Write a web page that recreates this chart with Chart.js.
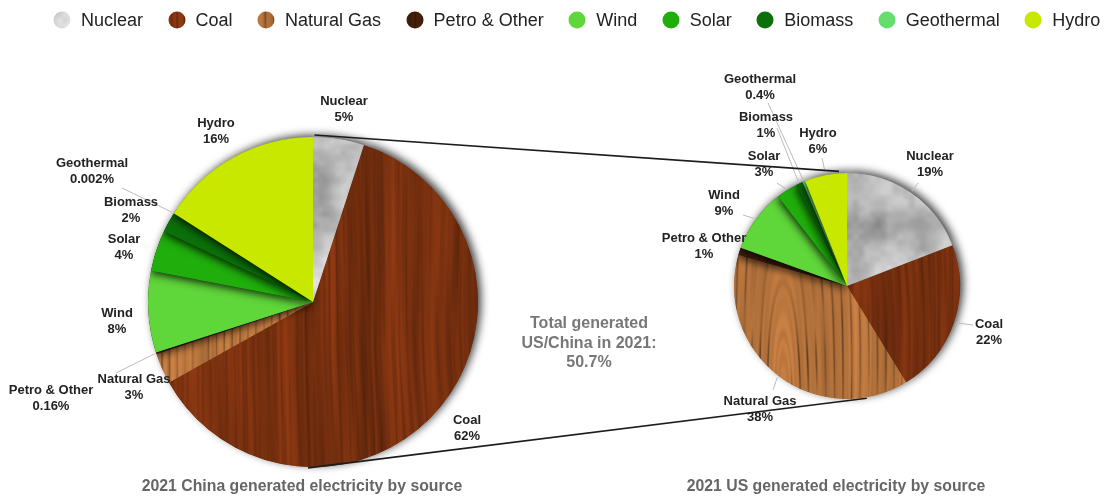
<!DOCTYPE html>
<html>
<head>
<meta charset="utf-8">
<title>US / China generated electricity 2021</title>
<script src="https://cdn.jsdelivr.net/npm/chart.js@4/dist/chart.umd.min.js"></script>
<style>
    html, body { margin: 0; background: #fff; }
    #page { position: relative; width: 1106px; height: 496px; overflow: hidden; font-family: "Liberation Sans", Arial, sans-serif; filter: blur(0.45px); }
    #page canvas.pie { position: absolute; left: 0; top: 0; }
    #legend { position: absolute; left: 53px; top: 8px; display: flex; font-size: 18px; color: #222; line-height: 24px; white-space: nowrap; }
    #legend div { display: flex; align-items: center; margin-right: 24.5px; }
    #legend canvas { margin-right: 10px; }
    .title { position: absolute; top: 477px; font-weight: bold; font-size: 15.8px; color: #666; white-space: nowrap; transform: translateX(-50%); }
    #note { position: absolute; left: 589px; top: 313px; width: 180px; margin-left: -90px; text-align: center; font-size: 16px; line-height: 19.5px; color: #777; font-weight: bold; }
</style>
</head>
<body>
<div id="page">
    <canvas class="pie" id="chinaPie" width="1106" height="496"></canvas>
    <canvas class="pie" id="usPie" width="1106" height="496"></canvas>
    <div id="legend"></div>
    <div id="note">Total generated<br>US/China in 2021:<br>50.7%</div>
    <div class="title" style="left:302px">2021 China generated electricity by source</div>
    <div class="title" style="left:836px">2021 US generated electricity by source</div>
</div>
<script>
// data (percent of generation)
const categories = ["Nuclear", "Coal", "Natural Gas", "Petro & Other", "Wind", "Solar", "Biomass", "Geothermal", "Hydro"];
const chinaValues = [5, 62, 3, 0.16, 8, 4, 2, 0.002, 16];
const usValues = [19, 22, 38, 1, 9, 3, 1, 0.4, 6];

// where the text labels sit: [centre x, first line y, leader end x, leader end y] (no leader when short)
const chinaLabelPos = [
    [344, 101], [467, 420], [134, 379], [51, 390, 116, 373],
    [117, 313], [124, 239], [131, 202], [92, 163, 122, 188], [216, 123]
];
const usLabelPos = [
    [930, 156, 918, 183], [989, 324, 973, 325], [760, 401, 773, 390], [704, 238],
    [724, 195, 743, 215], [764, 156, 777, 183], [766, 117, 777, 128], [760, 79, 768, 103], [818, 133, 822, 158]
];

function hash(x, y) {
    let s = Math.sin(x * 127.1 + y * 311.7) * 43758.5453;
    return s - Math.floor(s);
}

function noise(x, y) {
    let ix = Math.floor(x), iy = Math.floor(y);
    let fx = x - ix, fy = y - iy;
    fx = fx * fx * (3 - 2 * fx);
    fy = fy * fy * (3 - 2 * fy);
    let a = hash(ix, iy), b = hash(ix + 1, iy), c = hash(ix, iy + 1), d = hash(ix + 1, iy + 1);
    return (a + (b - a) * fx) * (1 - fy) + (c + (d - c) * fx) * fy;
}

function fbm(x, y) {
    return noise(x, y) * 0.5 + noise(x * 2, y * 2) * 0.25 + noise(x * 4, y * 4) * 0.15 + noise(x * 8, y * 8) * 0.1;
}

// paints a 1106x496 canvas pixel by pixel, shade(x, y) gives rgb
function makeTexture(shade) {
    let c = document.createElement("canvas");
    c.width = 1106;
    c.height = 496;
    let g = c.getContext("2d");
    let img = g.createImageData(1106, 496);
    let i = 0;
    for (let y = 0; y < 496; y++) {
        for (let x = 0; x < 1106; x++) {
            let rgb = shade(x, y);
            img.data[i++] = rgb[0];
            img.data[i++] = rgb[1];
            img.data[i++] = rgb[2];
            img.data[i++] = 255;
        }
    }
    g.putImageData(img, 0, 0);
    return c;
}

function woodShade(base, depth, lineDepth, archX) {
    return function (x, y) {
        let u = x + 10 * (noise(x / 90, y / 160) - 0.5);
        if (archX) {
            // cathedral grain: arches stretched up the plank, straight lines further out
            let dx = u - archX;
            let dy = (y - 390) / 7;
            u = archX + Math.sqrt(dx * dx + dy * dy);
        }
        let line = Math.abs(Math.sin(u * 0.4 + 2 * noise(x / 60, y / 220)));
        line = Math.pow(line, 14) * noise(u / 12, y / 40);
        let streak = noise(u / 2.5, y / 120) - 0.5;
        let broad = noise(u / 22, y / 300) - 0.5;
        let v = 1 + depth * (0.6 * streak + 0.6 * broad) - lineDepth * line;
        return [base[0] * v, base[1] * v, base[2] * v];
    };
}

function cloudShade(x, y) {
    let n = fbm(x / 45, y / 45);
    let v = 118 + 150 * n;
    if (v > 232) { v = 232; }
    return [v, v, v];
}

const nuclearTex = makeTexture(cloudShade);
const coalTex = makeTexture(woodShade([120, 48, 15], 0.42, 0.15, 0));
const gasTex = makeTexture(woodShade([186, 118, 62], 0.26, 0.45, 785));
const petroTex = makeTexture(woodShade([62, 28, 10], 0.3, 0.2, 0));

const sliceFills = [nuclearTex, coalTex, gasTex, petroTex, "#5fd63a", "#1fae0c", "#0c700a", "#66de6e", "#c8e800"];

function makeFills(g) {
    return sliceFills.map(function (f) {
        return typeof f === "string" ? f : g.createPattern(f, "repeat");
    });
}

function arcPoint(chart, deg, extra) {
    let arc = chart.getDatasetMeta(0).data[0];
    let r = arc.outerRadius + extra;
    let a = (deg - 90) * Math.PI / 180;
    return [arc.x + r * Math.cos(a), arc.y + r * Math.sin(a)];
}

function setShadow(ctx, color, blur, dx, dy) {
    ctx.shadowColor = color;
    ctx.shadowBlur = blur;
    ctx.shadowOffsetX = dx;
    ctx.shadowOffsetY = dy;
}

// the default pass leaves a soft shadow up and to the right of the whole pie,
// then the slices are painted over again: wood and cloud clean, the greens casting onto their neighbours
const sliceShadow = {
    id: "sliceShadow",
    beforeDatasetDraw(chart) {
        chart.ctx.save();
        setShadow(chart.ctx, "rgba(0,0,0,0.75)", 9, 3, -2);
    },
    afterDatasetDraw(chart) {
        let ctx = chart.ctx;
        let arcs = chart.getDatasetMeta(0).data;
        ctx.restore();
        ctx.save();
        ctx.beginPath();
        ctx.arc(arcs[0].x, arcs[0].y, arcs[0].outerRadius, 0, Math.PI * 2);
        ctx.clip();
        arcs[1].draw(ctx);
        arcs[2].draw(ctx);
        setShadow(ctx, "rgba(0,0,0,0.85)", 9, -1, 2);
        for (let i = 3; i < arcs.length; i++) {
            arcs[i].draw(ctx);
        }
        setShadow(ctx, "transparent", 0, 0, 0);
        arcs[0].draw(ctx);
        ctx.restore();
    }
};

// percent labels with thin leader lines to the slice
const sliceLabels = {
    id: "sliceLabels",
    afterDraw(chart) {
        let ctx = chart.ctx;
        let values = chart.data.datasets[0].data;
        let pos = chart.options.plugins.sliceLabels.positions;
        let total = values.reduce(function (a, b) { return a + b; }, 0);
        let run = 0;
        ctx.save();
        for (let i = 0; i < values.length; i++) {
            let mid = (run + values[i] / 2) / total * 360;
            run += values[i];
            let p = pos[i];
            if (p.length > 2) {
                let edge = arcPoint(chart, mid, 2);
                ctx.strokeStyle = "#bbb";
                ctx.lineWidth = 1;
                ctx.beginPath();
                ctx.moveTo(p[2], p[3]);
                ctx.lineTo(edge[0], edge[1]);
                ctx.stroke();
            }
        }
        ctx.fillStyle = "#222";
        ctx.font = "bold 13px 'Liberation Sans'";
        ctx.textAlign = "center";
        ctx.textBaseline = "middle";
        for (let i = 0; i < values.length; i++) {
            ctx.fillText(categories[i], pos[i][0], pos[i][1]);
            ctx.fillText(values[i] + "%", pos[i][0], pos[i][1] + 16);
        }
        ctx.restore();
    }
};

function makePie(id, values, pad, positions, extra) {
    let canvas = document.getElementById(id);
    return new Chart(canvas.getContext("2d"), {
        type: "pie",
        data: {
            labels: categories,
            datasets: [{
                data: values,
                backgroundColor: makeFills(canvas.getContext("2d")),
                borderWidth: 0
            }]
        },
        options: {
            responsive: false,
            animation: false,
            layout: { padding: pad },
            plugins: {
                legend: { display: false },
                tooltip: { enabled: false },
                sliceLabels: { positions: positions }
            }
        },
        plugins: [sliceShadow, sliceLabels].concat(extra)
    });
}

const chinaChart = makePie("chinaPie", chinaValues, { left: 148, right: 628, top: 137, bottom: 29 }, chinaLabelPos, []);

// black lines from the China pie out to the US pie
const connectors = {
    id: "connectors",
    afterDraw(chart) {
        let ctx = chart.ctx;
        let pairs = [[0.5, -4, 2, 2], [181.7, 170, 1, 1]];
        ctx.save();
        ctx.strokeStyle = "#1c1c1c";
        ctx.lineWidth = 1.7;
        pairs.forEach(function (p) {
            let a = arcPoint(chinaChart, p[0], p[2]);
            let b = arcPoint(chart, p[1], p[3]);
            ctx.beginPath();
            ctx.moveTo(a[0], a[1]);
            ctx.lineTo(b[0], b[1]);
            ctx.stroke();
        });
        ctx.restore();
    }
};

makePie("usPie", usValues, { left: 734, right: 146, top: 173, bottom: 97 }, usLabelPos, [connectors]);

// legend row, one textured dot per source
const legend = document.getElementById("legend");
categories.forEach(function (name, i) {
    let item = document.createElement("div");
    let dot = document.createElement("canvas");
    dot.width = 18;
    dot.height = 18;
    let g = dot.getContext("2d");
    let f = sliceFills[i];
    if (typeof f === "string") {
        g.fillStyle = f;
    } else {
        let pat = g.createPattern(f, "repeat");
        pat.setTransform(new DOMMatrix().translate(-320, -250));
        g.fillStyle = pat;
    }
    g.beginPath();
    g.arc(9, 9, 8.5, 0, Math.PI * 2);
    g.fill();
    item.appendChild(dot);
    item.appendChild(document.createTextNode(name));
    legend.appendChild(item);
});
</script>
</body>
</html>
